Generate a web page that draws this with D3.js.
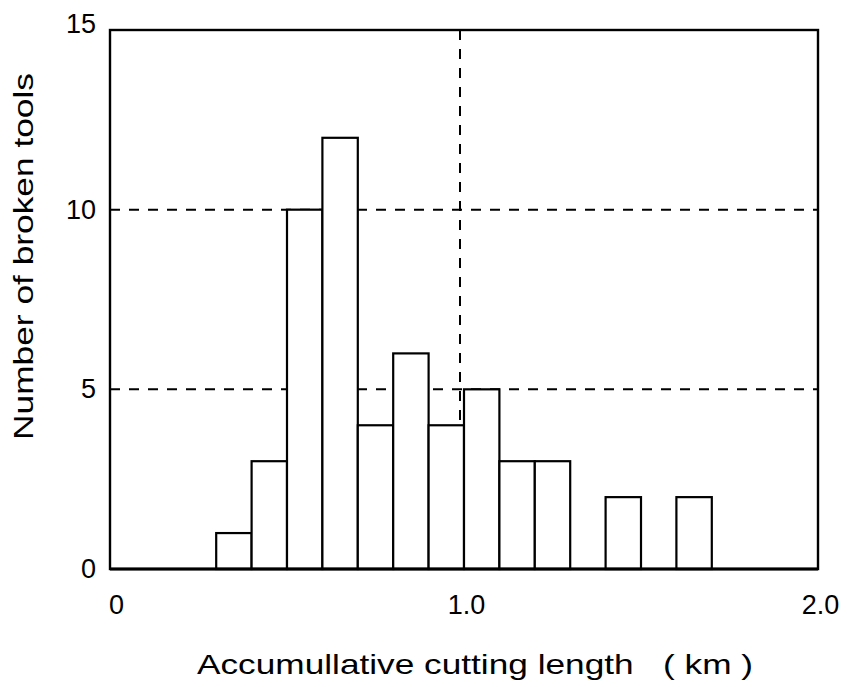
<!DOCTYPE html>
<html>
<head>
<meta charset="utf-8">
<script src="https://cdn.jsdelivr.net/npm/d3@7"></script>
<style>
  body { margin: 0; background: white; }
  text { font-family: "Liberation Sans", Arial, sans-serif; fill: #000; }
</style>
</head>
<body>
<div id="chart"></div>
<script>
// bins (km) and counts
const binStart = [0.3, 0.4, 0.5, 0.6, 0.7, 0.8, 0.9, 1.0, 1.1, 1.2, 1.4, 1.6]
const counts = [1, 3, 10, 12, 4, 6, 4, 5, 3, 3, 2, 2]
const binWidth = 0.1

const xTicks = [0, 1.0, 2.0]
const xTickLabels = ['0', '1.0', '2.0']
const yTicks = [0, 5, 10, 15]
const gridY = [5, 10]
const gridX = [1.0]

// Our canvas
const width = 847,
height = 687

const plotLeft = 110, plotRight = 818, plotTop = 30, plotBottom = 569

let svg = d3.select('#chart')
.append('svg')
.attr('width', width)
.attr('height', height)

const xScale = d3.scaleLinear()
.domain([0, 2])
.range([plotLeft, plotRight])

const yScale = d3.scaleLinear()
.domain([0, 15])
.range([plotBottom, plotTop])

// dashed reference lines (drawn first so bars cover them)
svg.selectAll('.gy')
.data(gridY)
.enter()
.append('line')
.attr('x1', plotLeft)
.attr('x2', plotRight)
.attr('y1', d => yScale(d))
.attr('y2', d => yScale(d))
.attr('stroke', '#000')
.attr('stroke-width', 2)
.attr('stroke-dasharray', '10,9')

svg.selectAll('.gx')
.data(gridX)
.enter()
.append('line')
.attr('x1', d => xScale(d) - 4)
.attr('x2', d => xScale(d) - 4)
.attr('y1', plotTop)
.attr('y2', plotBottom)
.attr('stroke', '#000')
.attr('stroke-width', 2)
.attr('stroke-dasharray', '10,9')

// bars
svg.selectAll('rect.bar')
.data(counts)
.enter()
.append('rect')
.attr('class', 'bar')
.attr('x', (d, i) => xScale(binStart[i]))
.attr('y', d => yScale(d))
.attr('width', (d, i) => xScale(binStart[i] + binWidth) - xScale(binStart[i]))
.attr('height', d => yScale(0) - yScale(d))
.attr('fill', 'white')
.attr('stroke', '#000')
.attr('stroke-width', 2.2)

// frame
svg.append('rect')
.attr('x', plotLeft)
.attr('y', plotTop)
.attr('width', plotRight - plotLeft)
.attr('height', plotBottom - plotTop)
.attr('fill', 'none')
.attr('stroke', '#000')
.attr('stroke-width', 2.4)

svg.append('line')
.attr('x1', plotLeft)
.attr('x2', plotRight)
.attr('y1', plotBottom)
.attr('y2', plotBottom)
.attr('stroke', '#000')
.attr('stroke-width', 3)

// axes, only the labels are shown
const xAxis = d3.axisBottom(xScale)
.tickValues(xTicks)
.tickSize(0)
.tickPadding(26)
.tickFormat((d, i) => xTickLabels[i])

const yAxis = d3.axisLeft(yScale)
.tickValues(yTicks)
.tickSize(0)
.tickPadding(14)

svg.append('g')
.attr('transform', `translate(0,${plotBottom})`)
.call(xAxis)
.call(g => g.select('.domain').remove())
.selectAll('text')
.style('font-size', '27px')
.attr('dx', (d, i) => i === 0 ? 6 : 2)

svg.append('g')
.attr('transform', `translate(${plotLeft},0)`)
.call(yAxis)
.call(g => g.select('.domain').remove())
.selectAll('text')
.style('font-size', '27px')
.attr('dy', d => d === 15 ? '0.1em' : '0.32em')

// axis titles
svg.append('text')
.attr('x', 197)
.attr('y', 674)
.attr('textLength', 556)
.attr('lengthAdjust', 'spacingAndGlyphs')
.style('font-size', '28px')
.style('white-space', 'pre')
.text('Accumullative cutting length   ( km )')

svg.append('text')
.attr('transform', `translate(33,440) rotate(-90)`)
.attr('textLength', 367)
.attr('lengthAdjust', 'spacingAndGlyphs')
.style('font-size', '27px')
.text('Number of broken tools')
</script>
</body>
</html>
